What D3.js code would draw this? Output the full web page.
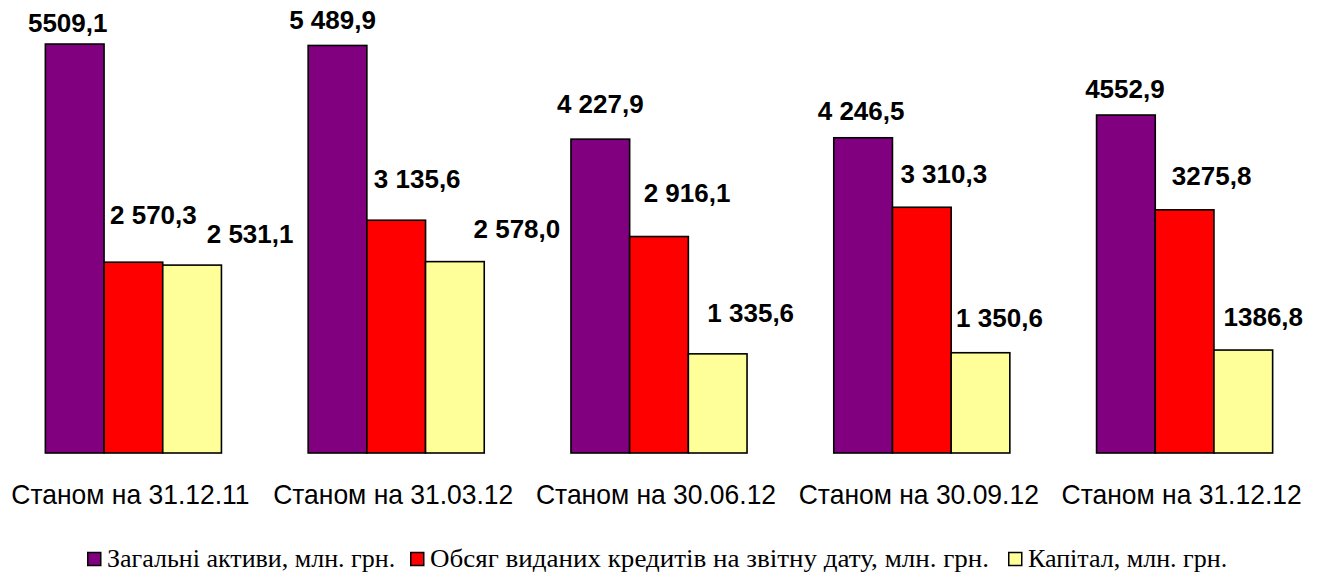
<!DOCTYPE html>
<html><head><meta charset="utf-8">
<script src="https://cdn.jsdelivr.net/npm/d3@7"></script>
<style>body{margin:0;background:#fff}svg{display:block}</style>
</head><body>
<svg id="c" width="1324" height="574"></svg>
<script>
const categories = ["Станом на 31.12.11","Станом на 31.03.12","Станом на 30.06.12","Станом на 30.09.12","Станом на 31.12.12"];
const seriesNames = ["Загальні активи, млн. грн.","Обсяг виданих кредитів на звітну дату, млн. грн.","Капітал, млн. грн."];
const assets  = [5509.1, 5489.9, 4227.9, 4246.5, 4552.9];
const credits = [2570.3, 3135.6, 2916.1, 3310.3, 3275.8];
const capital = [2531.1, 2578.0, 1335.6, 1350.6, 1386.8];
const assetLabels  = ["5509,1","5 489,9","4 227,9","4 246,5","4552,9"];
const creditLabels = ["2 570,3","3 135,6","2 916,1","3 310,3","3275,8"];
const capitalLabels= ["2 531,1","2 578,0","1 335,6","1 350,6","1386,8"];
const colors = ["#800080","#FF0000","#FFFF99"];
// manual label nudges (dx, baseline dy relative to bar top), as in the original
const nudges = [
  [[-7,-12],[-5,-16],[0,-26],[-2,-18],[-1,-17]],
  [[20,-38],[21,-32],[28,-35],[22,-24],[27,-25]],
  [[58,-22],[62,-24],[33,-32],[19,-26],[20,-24]]
];

const series = [assets, credits, capital];
const labels = [assetLabels, creditLabels, capitalLabels];
const svg = d3.select("#c");

const x0 = d3.scaleBand().domain(categories).range([2,1316]).paddingInner(0.33).paddingOuter(0.165);
const x1 = d3.scaleBand().domain([0,1,2]).range([0,x0.bandwidth()]);
const y = d3.scaleLinear().domain([0,6000]).range([453,7.6]);

const g = svg.append("g");
series.forEach((vals,s)=>{
  g.selectAll(null).data(vals).enter().append("rect")
    .attr("x",(d,i)=>x0(categories[i])+x1(s))
    .attr("y",d=>y(d))
    .attr("width",x1.bandwidth())
    .attr("height",d=>y(0)-y(d))
    .attr("fill",colors[s]).attr("stroke","#000").attr("stroke-width",1.6);
});
series.forEach((vals,s)=>{
  g.selectAll(null).data(vals).enter().append("text")
    .attr("x",(d,i)=>x0(categories[i])+x1(s)+x1.bandwidth()/2+nudges[s][i][0])
    .attr("y",(d,i)=>y(d)+nudges[s][i][1])
    .attr("text-anchor","middle")
    .attr("font-family","Liberation Sans, Arial, sans-serif")
    .attr("font-weight","bold").attr("font-size",26).attr("fill","#000")
    .text((d,i)=>labels[s][i]);
});

// category axis labels
const catG = svg.append("g");
categories.forEach(c=>{
  const cx = x0(c)+x0.bandwidth()/2;
  catG.append("text")
    .attr("transform",`translate(${cx - 3},504) scale(0.98,1)`)
    .attr("text-anchor","middle")
    .attr("font-family","Liberation Sans, Arial, sans-serif")
    .attr("font-size",27).attr("fill","#000").text(c);
});

// legend
const legendX = [87, 410, 1008];
const leg = svg.append("g");
seriesNames.forEach((n,s)=>{
  leg.append("rect").attr("x",legendX[s]+0.75).attr("y",552.5).attr("width",13).attr("height",13)
    .attr("fill",colors[s]).attr("stroke","#000").attr("stroke-width",1.5);
  leg.append("text")
    .attr("transform",`translate(${legendX[s]+20},567) scale(${s===1?1.04:1},1)`)
    .attr("font-family","Liberation Serif, Times New Roman, serif")
    .attr("font-size",26).attr("fill","#000").text(n);
});
</script>
</body></html>
